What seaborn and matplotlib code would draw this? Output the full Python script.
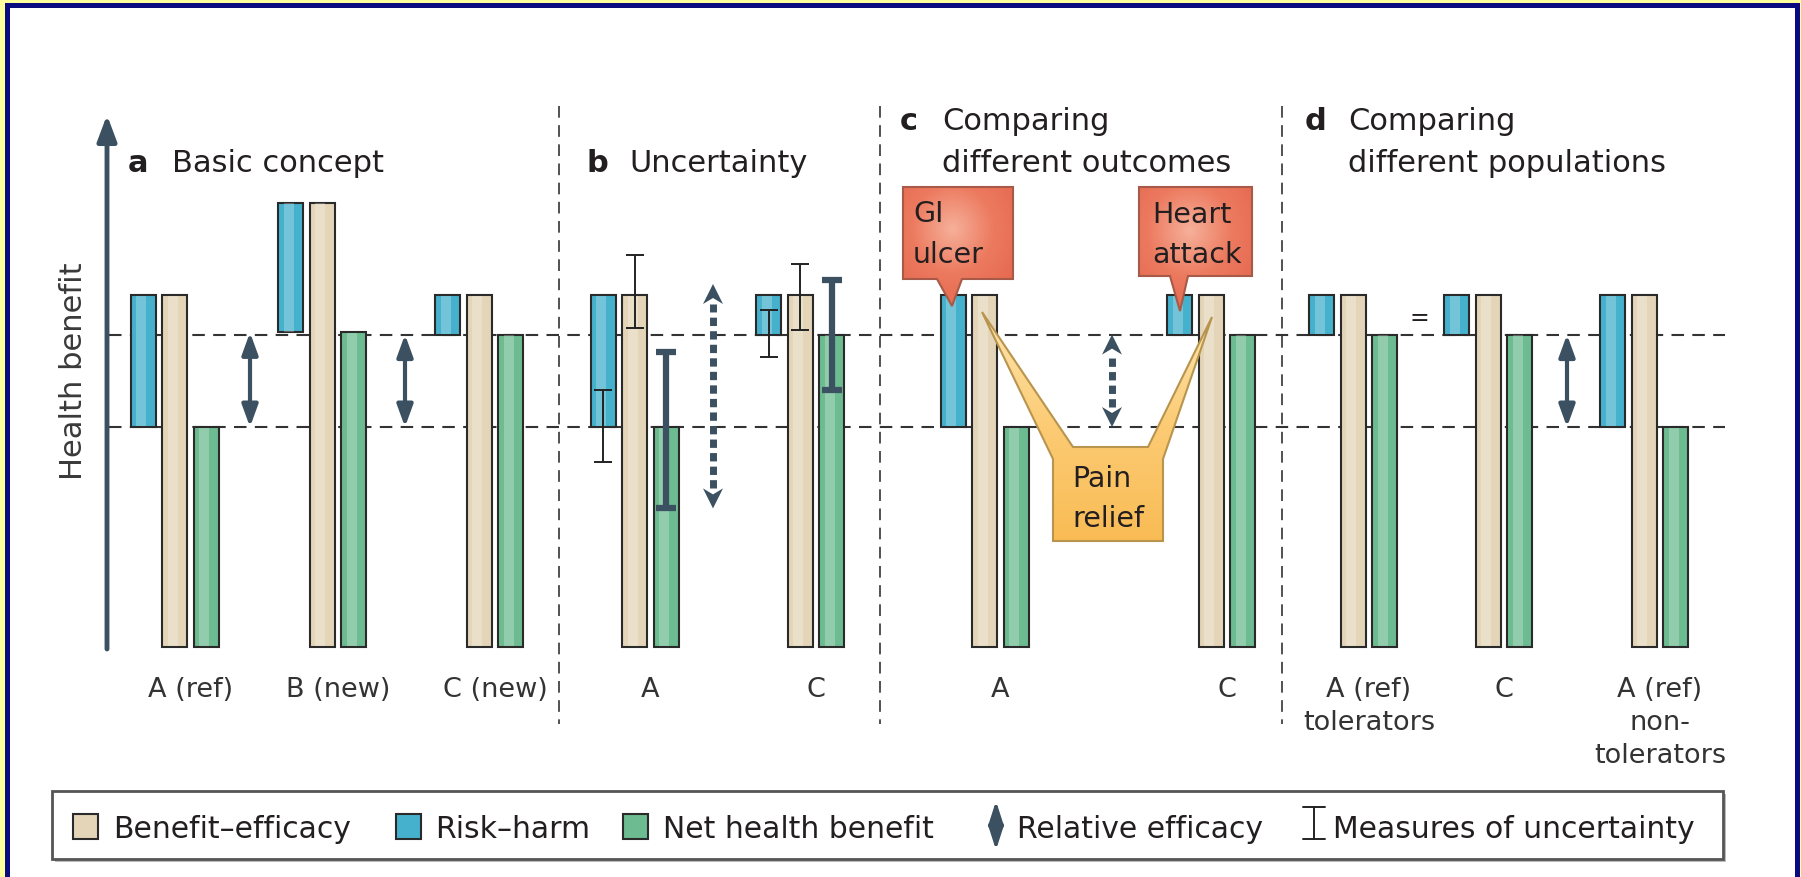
import numpy as np
import pandas as pd
import matplotlib
matplotlib.use('Agg')
import matplotlib.pyplot as plt
from matplotlib.patches import Rectangle, Polygon, FancyArrowPatch
from matplotlib.colors import LinearSegmentedColormap
import seaborn as sns

# --- data (arbitrary "health benefit" units) ---
labels_a = ['A (ref)', 'B (new)', 'C (new)']
benefit_a = [8.0, 10.1, 8.0]
risk_a = [3.0, 2.95, 0.9]

labels_b = ['A', 'C']
benefit_b = [8.0, 8.0]
risk_b = [3.0, 0.9]
risk_ci_b = [(4.2, 5.85), (6.6, 7.65)]
benefit_ci_b = [(7.25, 8.9), (7.2, 8.7)]
net_ci_b = [(3.15, 6.7), (5.85, 8.35)]
rel_eff_ci_b = (3.15, 8.25)

labels_c = ['A', 'C']
benefit_c = [8.0, 8.0]
risk_c = [3.0, 0.9]
harm_names_c = ['GI\nulcer', 'Heart\nattack']
benefit_name_c = 'Pain\nrelief'

labels_d = ['A (ref)\ntolerators', 'C', 'A (ref)\nnon-\ntolerators']
benefit_d = [8.0, 8.0, 8.0]
risk_d = [0.9, 0.9, 3.0]

titles = ['Basic concept', 'Uncertainty', 'Comparing\ndifferent outcomes', 'Comparing\ndifferent populations']
legend_labels = ['Benefit–efficacy', 'Risk–harm', 'Net health benefit',
                 'Relative efficacy', 'Measures of uncertainty']

# --- layout (pixels) ---
W, H = 1801, 878
BASE = 648      # pixel row of the bar bottoms
UNIT = 44       # pixels per unit
BW = 25         # bar width
OFF = 31.5      # distance between bars of a group
x_a = [174.5, 322, 479]
x_b = [634.5, 800]
x_c = [984.5, 1211]
x_d = [1353, 1488, 1644]


def Y(p):
    return (BASE - p) / UNIT


def P(pts):
    return [(x, Y(y)) for x, y in pts]


BEIGE = '#E4D5B8'
BLUE = '#45B1CD'
GREEN = '#6DBB91'
EDGE = '#2A2A2A'
DARK = '#3B5060'
TXT = '#231F20'

df = pd.DataFrame({
    'panel': ['a'] * 3 + ['b'] * 2 + ['c'] * 2 + ['d'] * 3,
    'label': labels_a + labels_b + labels_c + labels_d,
    'benefit': benefit_a + benefit_b + benefit_c + benefit_d,
    'risk': risk_a + risk_b + risk_c + risk_d,
    'x': x_a + x_b + x_c + x_d,
})
df['net'] = df['benefit'] - df['risk']
df['x_net'] = df['x'] + OFF
df['x_risk'] = df['x'] - OFF

sns.set_style('white')
plt.rcParams['font.family'] = ['DejaVu Sans']

fig = plt.figure(figsize=(W / 100, H / 100), dpi=100)
fig.patch.set_facecolor('#FFFF9C')
ax = fig.add_axes([0, 0, 1, 1])

# frame
navy = '#0B0B80'
ax.add_patch(Rectangle((10, Y(H)), 1785, Y(9) - Y(H), fc='white', ec='none', zorder=0))
ax.add_patch(Rectangle((5, Y(9)), 1795, Y(4) - Y(9), fc=navy, ec='none', zorder=0))
ax.add_patch(Rectangle((5, Y(H)), 5, Y(4) - Y(H), fc=navy, ec='none', zorder=0))
ax.add_patch(Rectangle((1795, Y(H)), 5, Y(4) - Y(H), fc=navy, ec='none', zorder=0))

# reference dashed lines at net benefit of A (ref) and C
net_ref = df.loc[0, 'net']
net_c = df.loc[2, 'net']
for v in (net_ref, net_c):
    ax.plot([109, 1725], [v, v], color='#333333', lw=1.5, dashes=(6, 4), zorder=1)
for xd in (559, 880, 1282):
    ax.plot([xd, xd], [Y(107), Y(725)], color='#333333', lw=1.2, dashes=(7, 4.5), zorder=1)


def rel_width(xs):
    return BW / np.diff(np.sort(np.unique(xs))).min()


# bars
sns.barplot(data=df, x='x', y='benefit', native_scale=True, width=rel_width(df['x']),
            color=BEIGE, saturation=1, edgecolor=EDGE, linewidth=1.5, errorbar=None,
            ax=ax, zorder=3)
sns.barplot(data=df, x='x_net', y='net', native_scale=True, width=rel_width(df['x_net']),
            color=GREEN, saturation=1, edgecolor=EDGE, linewidth=1.5, errorbar=None,
            ax=ax, zorder=3)
ax.bar(df['x_risk'], df['risk'], bottom=df['net'], width=BW, color=BLUE,
       edgecolor=EDGE, linewidth=1.5, zorder=3)
# soft highlight down the middle of every bar
for xs, h, b in ((df['x'], df['benefit'], 0), (df['x_net'], df['net'], 0),
                 (df['x_risk'], df['risk'], df['net'])):
    ax.bar(xs - 2, np.asarray(h) - 0.04, bottom=np.asarray(b) + 0.02, width=BW * 0.4,
           color='white', alpha=0.25, lw=0, zorder=3.5)

# uncertainty (panel b)
for i, xc in enumerate(x_b):
    for (lo, hi), xx in ((risk_ci_b[i], xc - OFF), (benefit_ci_b[i], xc)):
        ax.errorbar(xx, (lo + hi) / 2, yerr=(hi - lo) / 2, fmt='none', ecolor='#222222',
                    elinewidth=1.4, capsize=6.5, capthick=1.4, zorder=5)
    lo, hi = net_ci_b[i]
    ax.errorbar(xc + OFF, (lo + hi) / 2, yerr=(hi - lo) / 2, fmt='none', ecolor=DARK,
                elinewidth=4.5, capsize=7.5, capthick=4.5, zorder=5)


def solid_arrow(x, y0, y1, ms=12, lw=3):
    ax.add_patch(FancyArrowPatch((x, y0), (x, y1),
                                 arrowstyle='<|-|>,head_length=1.1,head_width=0.4',
                                 mutation_scale=ms, color=DARK, lw=lw,
                                 shrinkA=0, shrinkB=0, zorder=4))


def dashed_arrow(x, y0, y1):
    hl = 20 / UNIT
    ax.plot([x, x], [y0 + hl, y1 - hl], color=DARK, lw=5, dashes=(1.2, 0.75),
            dash_capstyle='butt', zorder=4)
    for tip, sgn in ((y1, -1), (y0, 1)):
        ax.add_patch(Polygon([(x - 10, tip + sgn * hl), (x, tip + sgn * hl * 0.7),
                              (x + 10, tip + sgn * hl), (x, tip)],
                             fc=DARK, ec='none', zorder=4))


# relative efficacy arrows
solid_arrow(250, df.loc[0, 'net'], df.loc[1, 'net'])
solid_arrow(405, df.loc[0, 'net'], df.loc[2, 'net'])
dashed_arrow(713, rel_eff_ci_b[0], rel_eff_ci_b[1])
dashed_arrow(1112, df.loc[5, 'net'], df.loc[6, 'net'])
solid_arrow(1567, df.loc[9, 'net'], df.loc[8, 'net'])
ax.text(1419, Y(318), '=', ha='center', va='center', fontsize=17, color=TXT)

# y axis arrow + label
ax.add_patch(FancyArrowPatch((107, Y(650)), (107, Y(116)),
                             arrowstyle='-|>,head_length=1.2,head_width=0.45',
                             mutation_scale=13, color=DARK, lw=3.5,
                             shrinkA=0, shrinkB=0, zorder=4))
ax.text(73, Y(371), 'Health benefit', rotation=90, ha='center', va='center',
        fontsize=22, color='#3A3A3A')


def lines_text(x, y, text, step, **kw):
    for k, line in enumerate(text.split('\n')):
        ax.text(x, Y(y + k * step), line, va='baseline', **kw)


# titles
for letter, lx, tx, ty, t in (('a', 128, 172, 172, titles[0]),
                              ('b', 586, 629, 172, titles[1]),
                              ('c', 900, 942, 130, titles[2]),
                              ('d', 1305, 1348, 130, titles[3])):
    ax.text(lx, Y(ty), letter, va='baseline', fontsize=22, fontweight='bold', color=TXT)
    lines_text(tx, ty, t, 42, fontsize=22, color=TXT)

# category labels
for lab, xc in zip(df['label'], df['x']):
    lines_text(xc + 16, 697, lab, 33, ha='center', fontsize=19.5, color='#333333')

# callouts (panel c) with soft gradients
red_cmap = LinearSegmentedColormap.from_list('red', ['#F6B09A', '#EC7A5F', '#E4664D'])
org_cmap = LinearSegmentedColormap.from_list('org', ['#FDE6B0', '#FCCB74', '#F9BC55'])


def gradient_box(pts, cmap, ec, radial):
    poly = Polygon(pts, closed=True, fc='none', ec=ec, lw=1.5, zorder=6.5)
    ax.add_patch(poly)
    xs = [p[0] for p in pts]
    ys = [p[1] for p in pts]
    gx, gy = np.meshgrid(np.linspace(0, 1, 120), np.linspace(0, 1, 120))
    if radial:
        z = np.clip(np.hypot(gx - 0.45, gy - 0.35) / 0.75, 0, 1)
    else:
        z = gy
    im = ax.imshow(z, cmap=cmap, vmin=0, vmax=1, aspect='auto', zorder=6,
                   extent=(min(xs), max(xs), min(ys), max(ys)), interpolation='bilinear')
    im.set_clip_path(poly)


gi = P([(903, 188), (1013, 188), (1013, 280), (962, 280), (952, 307), (937, 280), (903, 280)])
ha_ = P([(1139, 188), (1252, 188), (1252, 277), (1188, 277), (1180, 312), (1170, 277), (1139, 277)])
pain = P([(982, 313), (1073, 448), (1148, 448), (1212, 318), (1163, 460), (1163, 542),
          (1053, 542), (1053, 460)])
gradient_box(gi, red_cmap, '#A65A47', True)
gradient_box(ha_, red_cmap, '#A65A47', True)
gradient_box(pain, org_cmap, '#B8944E', False)
lines_text(913, 222, harm_names_c[0], 41, fontsize=20.5, color=TXT, zorder=7)
lines_text(1152, 223, harm_names_c[1], 40, fontsize=20.5, color=TXT, zorder=7)
lines_text(1072, 487, benefit_name_c, 40, fontsize=20.5, color=TXT, zorder=7)

# legend
ax.add_patch(Rectangle((55, Y(863)), 1723 - 52, Y(795) - Y(863), fc='#BBBBBB', ec='none', zorder=1.5))
ax.add_patch(Rectangle((52, Y(860)), 1723 - 52, Y(792) - Y(860), fc='white',
                       ec='#555555', lw=2, zorder=2))
for sx, c in ((73, BEIGE), (396, BLUE), (623, GREEN)):
    ax.add_patch(Rectangle((sx, Y(840)), 25, Y(815) - Y(840), fc=c, ec=EDGE, lw=1.5, zorder=3))
ax.add_patch(FancyArrowPatch((996, Y(851)), (996, Y(802)),
                             arrowstyle='<|-|>,head_length=1.4,head_width=0.45',
                             mutation_scale=10, color=DARK, lw=2.5,
                             shrinkA=0, shrinkB=0, zorder=4))
ax.plot([1314, 1314], [Y(808), Y(840)], color='#222222', lw=1.4, zorder=4)
for yy in (808, 840):
    ax.plot([1303, 1325], [Y(yy), Y(yy)], color='#222222', lw=1.4, zorder=4)
for tx, lab in zip((113, 435, 663, 1017, 1333), legend_labels):
    ax.text(tx, Y(838), lab, va='baseline', fontsize=21.5, color=TXT, zorder=4)

ax.set_xlim(0, W)
ax.set_ylim(Y(H), Y(0))
ax.axis('off')

fig.savefig('out.png', dpi=100, facecolor=fig.get_facecolor())
